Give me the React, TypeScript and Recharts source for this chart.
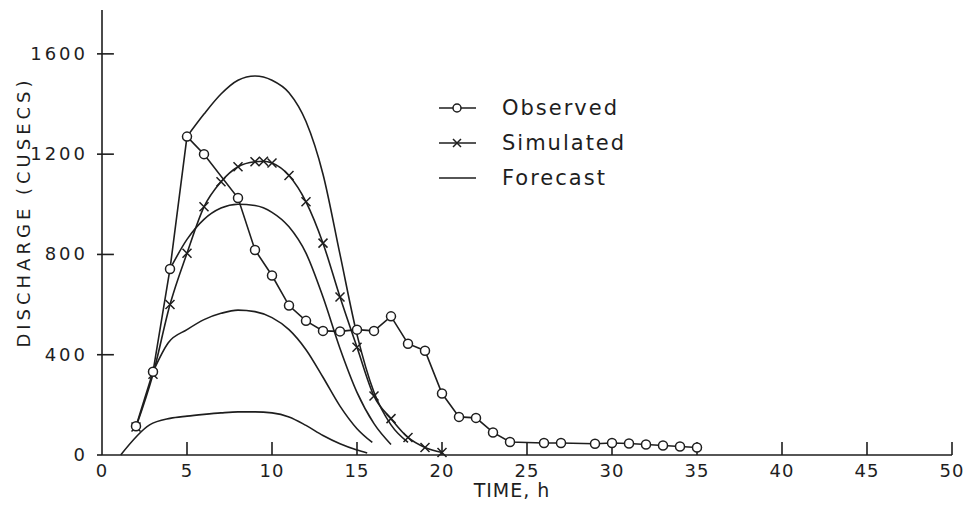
import { LineChart, Line, XAxis, YAxis, Legend, Label } from "recharts"

const observedTime = [2, 3, 4, 5, 6, 8, 9, 10, 11, 12, 13, 14, 15, 16, 17, 18, 19, 20, 21, 22, 23, 24, 26, 27, 29, 30, 31, 32, 33, 34, 35]
const observedFlow = [115, 332, 742, 1270, 1200, 1025, 818, 716, 596, 535, 495, 493, 500, 495, 553, 444, 416, 245, 152, 148, 90, 52, 48, 48, 45, 48, 46, 42, 38, 34, 30]

const simulatedTime = [2, 3, 4, 5, 6, 7, 8, 9, 9.5, 10, 11, 12, 13, 14, 15, 16, 17, 18, 19, 20]
const simulatedFlow = [112, 322, 600, 805, 990, 1090, 1150, 1170, 1172, 1165, 1115, 1010, 845, 630, 430, 235, 145, 70, 30, 10]

// four forecasts, each issued from an observed point
const forecast1Time = [5, 6, 7, 8, 9, 10, 11, 12, 13, 14, 15, 16, 17, 18]
const forecast1Flow = [1270, 1360, 1440, 1495, 1512, 1495, 1445, 1330, 1120, 800, 480, 250, 120, 50]
const forecast2Time = [4, 5, 6, 7, 8, 9, 10, 11, 12, 13, 14, 15, 16, 17]
const forecast2Flow = [742, 860, 940, 985, 1000, 995, 968, 910, 805, 630, 425, 250, 125, 42]
const forecast3Time = [3, 3.9, 5, 6, 7, 8, 9, 10, 11, 12, 13, 14, 15, 15.9]
const forecast3Flow = [332, 448, 500, 540, 565, 578, 572, 548, 500, 420, 310, 195, 105, 50]
const forecast4Time = [1.1, 2.8, 4, 5, 6, 7, 8, 9, 10, 11, 12, 13, 14, 15, 15.6]
const forecast4Flow = [0, 120, 146, 155, 162, 168, 172, 172, 168, 152, 118, 78, 45, 20, 8]

const xTicks = [0, 5, 10, 15, 20, 25, 30, 35, 40, 45, 50]
const yTicks = [0, 400, 800, 1200, 1600]

const ink = "#1e1e1e"
const font = "DejaVu Sans"

// inward tick marks, length in data units (about 13px / 12px)
const xTickLen = 52
const yTickLen = 0.7

const toPoints = (t: number[], q: number[]) => t.map((time, i) => ({ time, flow: q[i] }))

const observed = toPoints(observedTime, observedFlow)
const simulated = toPoints(simulatedTime, simulatedFlow)
const forecasts = [
    toPoints(forecast1Time, forecast1Flow),
    toPoints(forecast2Time, forecast2Flow),
    toPoints(forecast3Time, forecast3Flow),
    toPoints(forecast4Time, forecast4Flow),
]

const tickMarks = [
    ...xTicks.filter((t) => t > 0).map((t) => [{ time: t, flow: 0 }, { time: t, flow: xTickLen }]),
    ...yTicks.filter((v) => v > 0).map((v) => [{ time: 0, flow: v }, { time: yTickLen, flow: v }]),
]

const CircleDot = (props: any) => {
    const { cx, cy } = props
    if (cx == null || cy == null) return null
    return <circle cx={cx} cy={cy} r={4.5} fill="#fff" stroke={ink} strokeWidth={1.5} />
}

const CrossDot = (props: any) => {
    const { cx, cy } = props
    if (cx == null || cy == null) return null
    const s = 4.5
    return (
        <path
            d={`M${cx - s},${cy - s}L${cx + s},${cy + s}M${cx - s},${cy + s}L${cx + s},${cy - s}`}
            stroke={ink}
            strokeWidth={1.5}
        />
    )
}

const XTick = (props: any) => {
    const { x, y, payload } = props
    return (
        <text x={x} y={y + 22} textAnchor="middle" fontFamily={font} fontSize={18} letterSpacing={1} fill={ink}>
            {payload.value}
        </text>
    )
}

const YTick = (props: any) => {
    const { x, y, payload } = props
    return (
        <g>
            <path d={`M${x - 5},${y}H${x}`} stroke={ink} strokeWidth={1.6} fill="none" />
            <text x={x - 14} y={y + 6} textAnchor="end" fontFamily={font} fontSize={18} letterSpacing={3} fill={ink}>
                {payload.value}
            </text>
        </g>
    )
}

const legendRows = [
    { label: "Observed", marker: "circle" },
    { label: "Simulated", marker: "cross" },
    { label: "Forecast", marker: "none" },
]

const LegendBox = () => (
    <div style={{ fontFamily: font, color: ink }}>
        {legendRows.map((row) => (
            <div key={row.label} style={{ display: "flex", alignItems: "center", height: 35 }}>
                <svg width={48} height={20} style={{ marginRight: 18 }}>
                    <line x1={3} x2={40} y1={10} y2={10} stroke={ink} strokeWidth={1.5} />
                    {row.marker === "circle" && <circle cx={21} cy={10} r={4} fill="#fff" stroke={ink} strokeWidth={1.5} />}
                    {row.marker === "cross" && (
                        <path d="M17,6L25,14M17,14L25,6" stroke={ink} strokeWidth={1.5} />
                    )}
                </svg>
                <span style={{ fontSize: 21, letterSpacing: 2 }}>{row.label}</span>
            </div>
        ))}
    </div>
)

export default function App() {
    return (
        <div style={{ position: "absolute", left: 0, top: 0, background: "#fff" }}>
            <LineChart width={972} height={514} margin={{ top: 10, right: 20, left: 0, bottom: 0 }}>
                <XAxis
                    dataKey="time"
                    type="number"
                    domain={[0, 50]}
                    ticks={xTicks}
                    height={59}
                    tickSize={0}
                    tickMargin={0}
                    tickLine={false}
                    stroke={ink}
                    strokeWidth={1.6}
                    tick={<XTick />}
                    allowDuplicatedCategory={false}
                >
                    <Label
                        content={() => (
                            <text x={512} y={497} textAnchor="middle" fontFamily={font} fontSize={19} letterSpacing={1} fill={ink}>
                                TIME, h
                            </text>
                        )}
                    />
                </XAxis>
                <YAxis
                    dataKey="flow"
                    type="number"
                    domain={[0, 1775]}
                    ticks={yTicks}
                    width={102}
                    tickSize={0}
                    tickMargin={0}
                    tickLine={false}
                    stroke={ink}
                    strokeWidth={1.6}
                    tick={<YTick />}
                >
                    <Label
                        content={() => (
                            <text
                                x={30}
                                y={212}
                                transform="rotate(-90 30 212)"
                                textAnchor="middle"
                                fontFamily={font}
                                fontSize={18}
                                letterSpacing={4}
                                fill={ink}
                            >
                                DISCHARGE (CUSECS)
                            </text>
                        )}
                    />
                </YAxis>
                <Legend
                    layout="vertical"
                    verticalAlign="middle"
                    align="center"
                    wrapperStyle={{ top: 90, left: 436, right: "auto", bottom: "auto", width: 260 }}
                    content={<LegendBox />}
                />
                {tickMarks.map((m, i) => (
                    <Line
                        key={`tick${i}`}
                        data={m}
                        dataKey="flow"
                        type="linear"
                        stroke={ink}
                        strokeWidth={1.6}
                        dot={false}
                        activeDot={false}
                        isAnimationActive={false}
                        legendType="none"
                    />
                ))}
                {forecasts.map((f, i) => (
                    <Line
                        key={`f${i}`}
                        data={f}
                        dataKey="flow"
                        type="monotone"
                        stroke={ink}
                        strokeWidth={1.6}
                        dot={false}
                        activeDot={false}
                        isAnimationActive={false}
                        legendType="none"
                    />
                ))}
                <Line
                    data={simulated}
                    dataKey="flow"
                    type="monotone"
                    stroke={ink}
                    strokeWidth={1.6}
                    dot={<CrossDot />}
                    activeDot={false}
                    isAnimationActive={false}
                />
                <Line
                    data={observed}
                    dataKey="flow"
                    type="linear"
                    stroke={ink}
                    strokeWidth={1.6}
                    dot={<CircleDot />}
                    activeDot={false}
                    isAnimationActive={false}
                />
            </LineChart>
        </div>
    )
}
